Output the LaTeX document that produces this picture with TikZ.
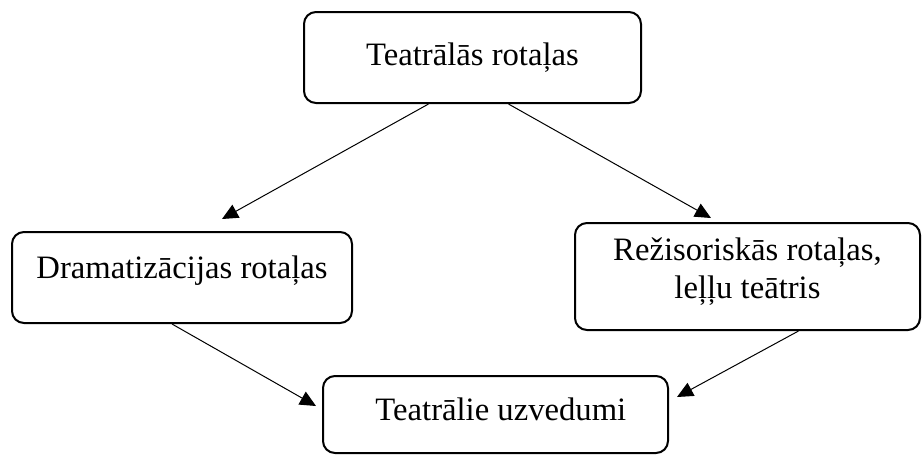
\documentclass[tikz,border=0pt]{standalone}
\usepackage{fontspec}
\setmainfont{Liberation Serif}
\usetikzlibrary{arrows.meta,calc}
\begin{document}
\begin{tikzpicture}[x=0.75pt,y=-0.75pt,
  box/.style={draw=black,line width=1.5pt,rounded corners=9pt,inner sep=0pt,
    font=\fontsize{24.5}{28.5}\selectfont},
  conn/.style={line width=0.75pt,-{Triangle[length=12pt,width=11pt]}}]
\useasboundingbox (0,0) rectangle (922,455);
\node[box,minimum width=252.75pt,text height=39.75pt,text depth=28.5pt] (top) at (472.5,57.5) {Teatrālās rotaļas};
\node[box,minimum width=255pt,text height=34.5pt,text depth=33.75pt] (left) at (182,277.5) {Dramatizācijas rotaļas};
\node[box,minimum width=258.75pt,text height=56.25pt,text depth=24pt] (right) at (747.5,276.5)
  {\begin{tabular}[b]{@{}c@{}}Režisoriskās rotaļas,\\leļļu teātris\end{tabular}};
\node[box,minimum width=258.75pt,text height=33pt,text depth=24.75pt] (bottom) at (495.5,414.5) {\hspace*{8pt}Teatrālie uzvedumi};
\coordinate (tipL) at (222,219);
\coordinate (tipR) at (711,218);
\coordinate (tipBL) at (316,406);
\coordinate (tipBR) at (677,397);
\draw[conn] ($(top.south)+(-44,0)$) -- (tipL);
\draw[conn] ($(top.south)+(36,0)$) -- (tipR);
\draw[conn] ($(left.south)+(-10,0)$) -- (tipBL);
\draw[conn] ($(right.south)+(51,0)$) -- (tipBR);
\end{tikzpicture}
\end{document}
